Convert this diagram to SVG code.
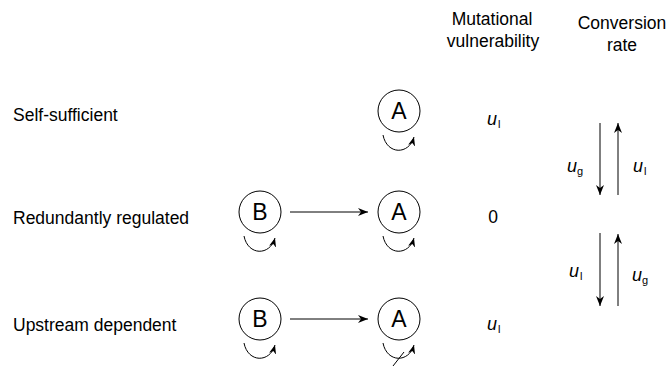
<svg xmlns="http://www.w3.org/2000/svg" width="670" height="366" viewBox="0 0 670 366">
<defs>
<style>
.t{font-family:"Liberation Sans",Arial,sans-serif;font-size:17.5px;fill:#000}
.c{text-anchor:middle}
.n{fill:#fff;stroke:#000;stroke-width:1}
.nl{font-family:"Liberation Sans",Arial,sans-serif;font-size:23px;fill:#000;text-anchor:middle}
.e{fill:none;stroke:#000;stroke-width:1}
.u{font-family:"Liberation Sans",Arial,sans-serif;font-style:italic;font-size:18px;fill:#000}
.s{font-family:"Liberation Sans",Arial,sans-serif;font-size:11px;fill:#000;font-style:normal}
</style>
<marker id="arr" viewBox="0 0 10 8" refX="10" refY="4" markerWidth="10" markerHeight="8" orient="auto" markerUnits="userSpaceOnUse">
<path d="M0,0 L10,4 L0,8 L3,4 Z" fill="#000"/>
</marker>
<marker id="sarr" viewBox="0 0 10 8" refX="10" refY="4" markerWidth="9" markerHeight="8" orient="auto" markerUnits="userSpaceOnUse">
<path d="M0,0 L10,4 L0,8 L3,4 Z" fill="#000"/>
</marker>
</defs>
<rect width="670" height="366" fill="#fff"/>

<g id="headers">
<text class="t c" x="492" y="25">Mutational</text>
<text class="t c" x="493" y="47">vulnerability</text>
<text class="t c" x="622" y="29">Conversion</text>
<text class="t c" x="622" y="51">rate</text>
</g>

<g id="row-labels">
<text class="t" x="13" y="121">Self-sufficient</text>
<text class="t" x="13" y="224">Redundantly regulated</text>
<text class="t" x="13" y="331">Upstream dependent</text>
</g>

<g id="node-A1">
<circle class="n" cx="399" cy="111" r="21"/>
<text class="nl" x="399" y="119">A</text>
</g>
<g id="node-B2">
<circle class="n" cx="260" cy="212" r="21"/>
<text class="nl" x="260" y="220">B</text>
</g>
<g id="node-A2">
<circle class="n" cx="399" cy="212" r="21"/>
<text class="nl" x="399" y="220">A</text>
</g>
<g id="node-B3">
<circle class="n" cx="260" cy="319" r="21"/>
<text class="nl" x="260" y="327">B</text>
</g>
<g id="node-A3">
<circle class="n" cx="399" cy="319" r="21"/>
<text class="nl" x="399" y="327">A</text>
</g>

<g id="connectors">
<path class="e" d="M383,135 C387,155 409,155 414,137" marker-end="url(#sarr)"/>
<path class="e" d="M244,236 C248,256 270,256 275,238" marker-end="url(#sarr)"/>
<path class="e" d="M383,236 C387,256 409,256 414,238" marker-end="url(#sarr)"/>
<path class="e" d="M244,343 C248,363 270,363 275,345" marker-end="url(#sarr)"/>
<path class="e" d="M383,343 C387,363 409,363 414,345" marker-end="url(#sarr)"/>
<line class="e" x1="393" y1="366" x2="404" y2="352"/>
<line class="e" x1="290" y1="212" x2="368" y2="212" marker-end="url(#arr)"/>
<line class="e" x1="290" y1="319" x2="368" y2="319" marker-end="url(#arr)"/>
<line class="e" x1="600" y1="123" x2="600" y2="195" marker-end="url(#arr)"/>
<line class="e" x1="618" y1="195" x2="618" y2="123" marker-end="url(#arr)"/>
<line class="e" x1="600" y1="233" x2="600" y2="306" marker-end="url(#arr)"/>
<line class="e" x1="618" y1="306" x2="618" y2="234" marker-end="url(#arr)"/>
</g>

<g id="values">
<text class="u" x="487" y="125">u<tspan class="s" dx="1" dy="3">l</tspan></text>
<text class="t c" x="493" y="223">0</text>
<text class="u" x="487" y="330">u<tspan class="s" dx="1" dy="3">l</tspan></text>
</g>

<g id="rates">
<text class="u" x="567" y="172">u<tspan class="s" dx="0" dy="3">g</tspan></text>
<text class="u" x="633" y="172">u<tspan class="s" dx="1" dy="3">l</tspan></text>
<text class="u" x="569" y="277">u<tspan class="s" dx="1" dy="3">l</tspan></text>
<text class="u" x="632" y="281">u<tspan class="s" dx="0" dy="3">g</tspan></text>
</g>
</svg>
